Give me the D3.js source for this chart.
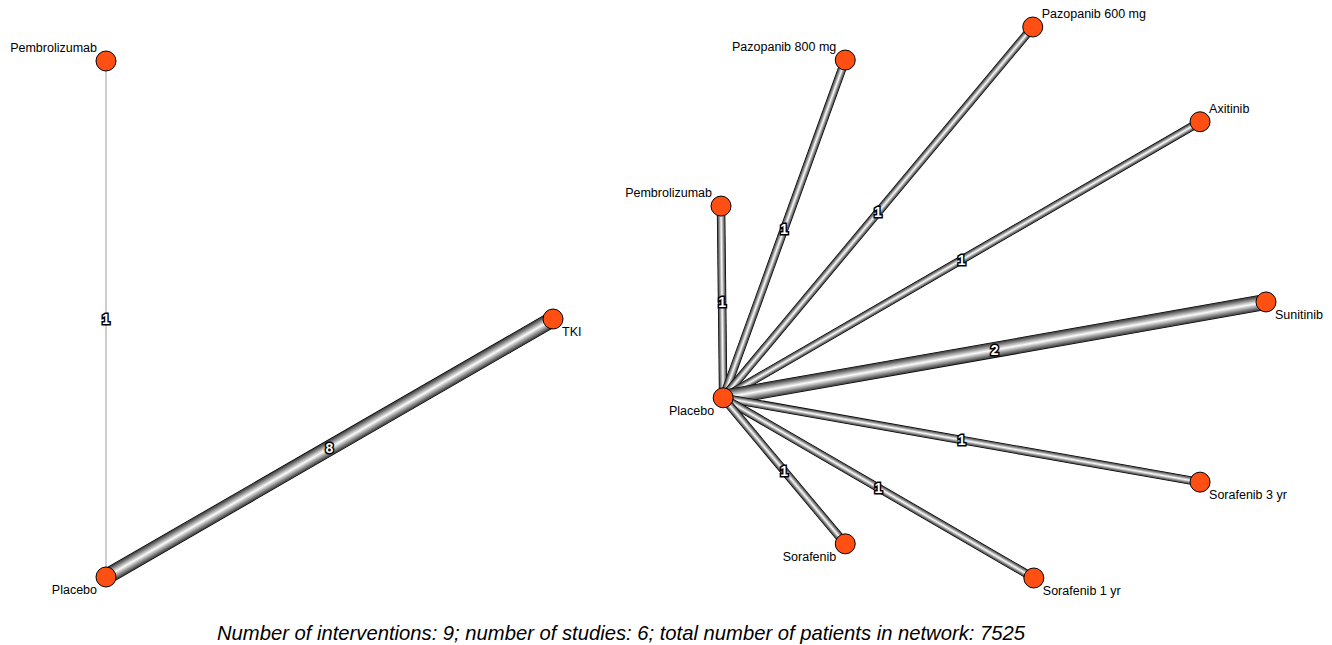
<!DOCTYPE html>
<html>
<head>
<meta charset="utf-8">
<script src="https://cdn.jsdelivr.net/npm/d3@7"></script>
<style>
  body { margin: 0; background: #fff; }
  svg { display: block; font-family: "Liberation Sans", Arial, sans-serif; }
  .node-label { font-size: 12.5px; fill: #000; }
  .edge-label { font-size: 14px; font-weight: bold; fill: #fff; stroke: #000; stroke-width: 3px; paint-order: stroke; }
</style>
</head>
<body>
<svg id="chart"></svg>
<script>
// Data: two network panels
// layout coordinates are in unit space, label position code: ul, ll, ur, lr
const leftNodes = ["Pembrolizumab", "Placebo", "TKI"];
const leftLayoutX = [0, 0, 1];
const leftLayoutY = [1, 0, 0.5];
const leftLabelPos = ["ul", "ll", "lr"];
const leftEdges = [["Placebo", "Pembrolizumab", 1], ["Placebo", "TKI", 8]];

const rightNodes = ["Placebo", "Pembrolizumab", "Pazopanib 800 mg", "Pazopanib 600 mg", "Axitinib",
  "Sunitinib", "Sorafenib 3 yr", "Sorafenib 1 yr", "Sorafenib"];
const rightLayoutX = [0.004, 0, 0.228, 0.572, 0.879, 1, 0.879, 0.574, 0.228];
const rightLayoutY = [0.327, 0.675, 0.940, 1, 0.828, 0.501, 0.174, 0, 0.062];
const rightLabelPos = ["ll", "ul", "ul", "ur", "ur", "lr", "lr", "lr", "ll"];
const rightEdges = [
  ["Placebo", "Pembrolizumab", 1], ["Placebo", "Pazopanib 800 mg", 1], ["Placebo", "Pazopanib 600 mg", 1],
  ["Placebo", "Axitinib", 1], ["Placebo", "Sunitinib", 2], ["Placebo", "Sorafenib 3 yr", 1],
  ["Placebo", "Sorafenib 1 yr", 1], ["Placebo", "Sorafenib", 1]
];

const caption = "Number of interventions: 9; number of studies: 6; total number of patients in network: 7525";

// Configuration
const W = 1332, H = 645;
const nodeR = 10;
const maxEdgeWidth = 15;

const svg = d3.select("#chart").attr("width", W).attr("height", H);
const defs = svg.append("defs");
let gradId = 0;

function drawPanel(cfg) {
  const { names, lx, ly, pos, edges, xRange, yRange } = cfg;
  const x = d3.scaleLinear().domain([0, 1]).range(xRange);
  const y = d3.scaleLinear().domain([0, 1]).range(yRange);
  const nodes = names.map((n, i) => ({ name: n, x: x(lx[i]), y: y(ly[i]), pos: pos[i] }));
  const byName = new Map(nodes.map(d => [d.name, d]));
  const maxN = d3.max(edges, e => e[2]);
  const w = d3.scaleLinear().domain([0, maxN]).range([0, maxEdgeWidth]);

  const g = svg.append("g");

  edges.forEach(e => {
    const a = byName.get(e[0]), b = byName.get(e[1]);
    const width = w(e[2]);
    const dx = b.x - a.x, dy = b.y - a.y, len = Math.hypot(dx, dy);
    const px = -dy / len, py = dx / len;
    const mx = (a.x + b.x) / 2, my = (a.y + b.y) / 2;
    const id = "tube" + (gradId++);
    const grad = defs.append("linearGradient").attr("id", id)
      .attr("gradientUnits", "userSpaceOnUse")
      .attr("x1", mx - px * width / 2).attr("y1", my - py * width / 2)
      .attr("x2", mx + px * width / 2).attr("y2", my + py * width / 2);
    if (width < 3) {
      grad.append("stop").attr("offset", 0).attr("stop-color", "#cccccc");
      grad.append("stop").attr("offset", 1).attr("stop-color", "#cccccc");
    } else {
      [[0, "#333"], [0.22, "#8a8a8a"], [0.5, "#fbfbfb"], [0.78, "#8a8a8a"], [1, "#333"]]
        .forEach(s => grad.append("stop").attr("offset", s[0]).attr("stop-color", s[1]));
      g.append("line")
        .attr("x1", a.x).attr("y1", a.y).attr("x2", b.x).attr("y2", b.y)
        .attr("stroke", "#000").attr("stroke-width", width + 1);
    }
    g.append("line")
      .attr("x1", a.x).attr("y1", a.y).attr("x2", b.x).attr("y2", b.y)
      .attr("stroke", `url(#${id})`).attr("stroke-width", width);
    g.append("text").attr("class", "edge-label")
      .attr("x", mx).attr("y", my).attr("dy", "0.36em")
      .attr("text-anchor", "middle").text(e[2]);
  });

  g.selectAll("circle").data(nodes).join("circle")
    .attr("cx", d => d.x).attr("cy", d => d.y).attr("r", nodeR)
    .attr("fill", "#ff4f12").attr("stroke", "#000").attr("stroke-width", 1);

  g.selectAll("text.node-label").data(nodes).join("text")
    .attr("class", "node-label")
    .attr("x", d => d.x + (d.pos[1] === "l" ? -9 : 9))
    .attr("y", d => d.y + (d.pos[0] === "u" ? -9 : 17))
    .attr("text-anchor", d => d.pos[1] === "l" ? "end" : "start")
    .text(d => d.name);
}

drawPanel({ names: leftNodes, lx: leftLayoutX, ly: leftLayoutY, pos: leftLabelPos, edges: leftEdges,
  xRange: [106, 553], yRange: [577, 61] });
drawPanel({ names: rightNodes, lx: rightLayoutX, ly: rightLayoutY, pos: rightLabelPos, edges: rightEdges,
  xRange: [721, 1266], yRange: [578, 27] });

svg.append("text")
  .attr("x", 217).attr("y", 640)
  .attr("font-size", 21).attr("font-style", "italic")
  .attr("textLength", 808).attr("lengthAdjust", "spacingAndGlyphs")
  .text(caption);
</script>
</body>
</html>
